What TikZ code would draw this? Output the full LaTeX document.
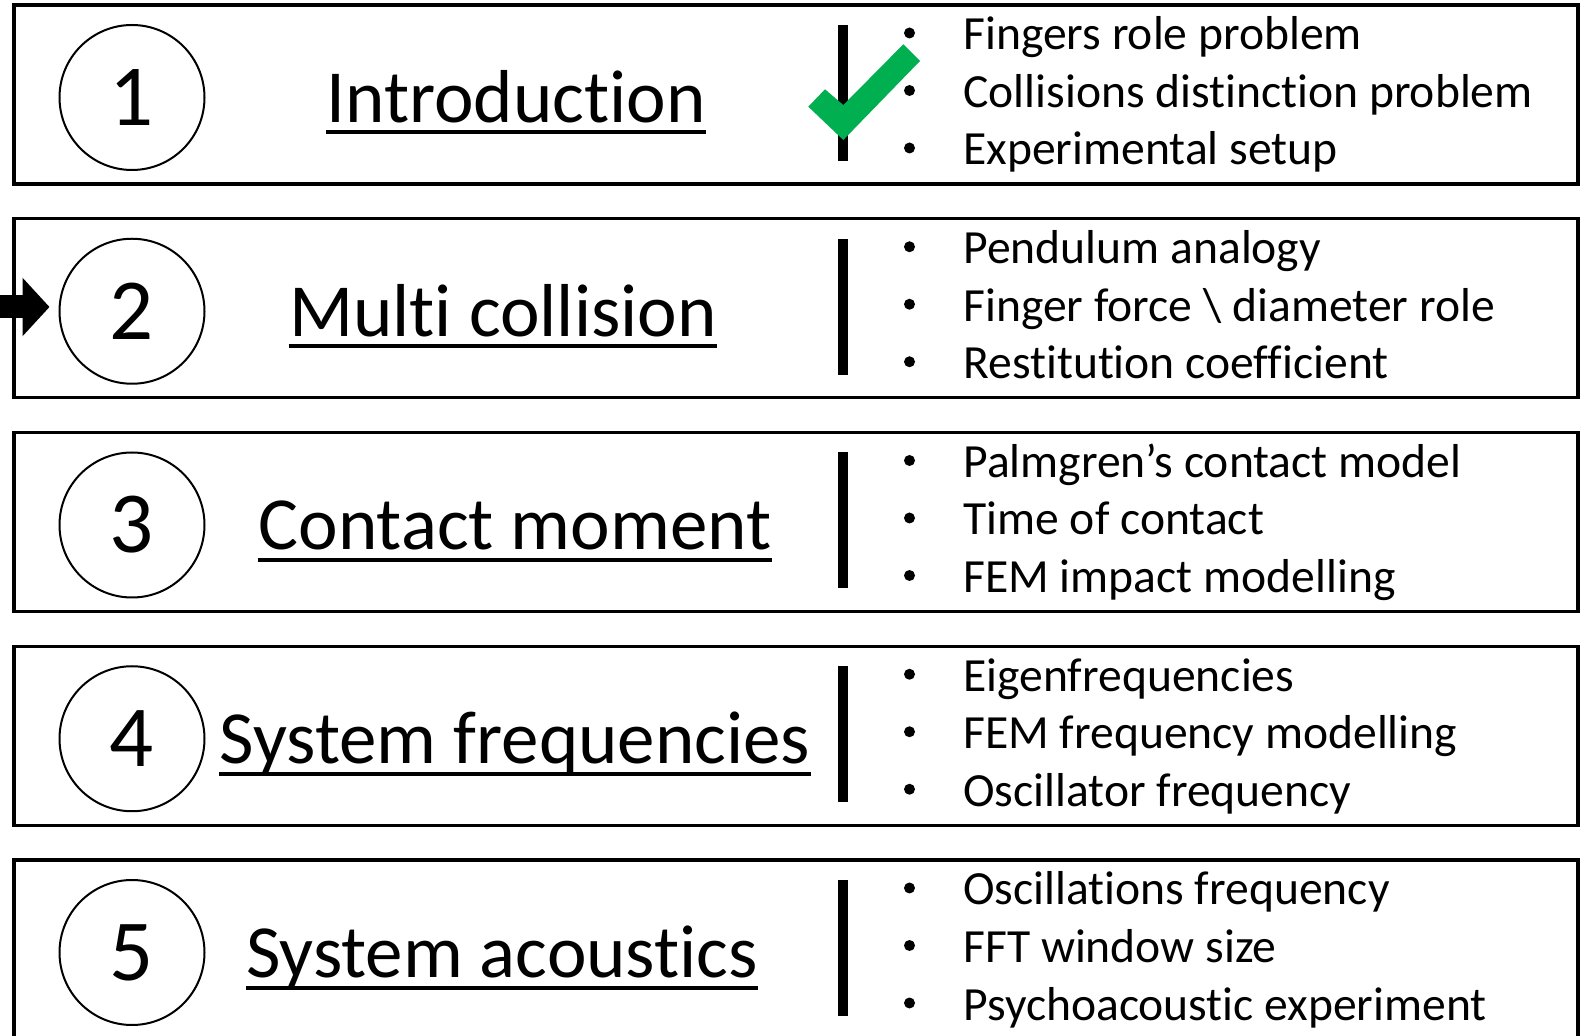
\documentclass[tikz,border=0pt]{standalone}
\usepackage{fontspec}
\setmainfont{Carlito}[Ligatures=NoCommon, RawFeature=-liga]
\usetikzlibrary{arrows.meta}

\definecolor{donegreen}{RGB}{0,176,80}

\tikzset{
  topicbox/.style={draw, line width=1.7pt, minimum width=782pt, minimum height=89.5pt, inner sep=0pt},
  numcircle/.style={draw, circle, line width=1pt, minimum size=72.5pt, inner sep=0pt,
    font=\fontsize{43.5}{50}\selectfont},
  topictitle/.style={anchor=base, inner sep=0pt, font=\fontsize{37.5}{44}\selectfont},
  titleline/.style={line width=2pt},
  sepbar/.style={fill, inner sep=0pt, minimum width=5pt, minimum height=68pt},
  itemdot/.style={circle, fill, inner sep=0pt, minimum size=5.5pt},
  itemtext/.style={anchor=base west, inner sep=0pt, font=\fontsize{23.8}{28}\selectfont},
  bigarrow/.style={line width=11.5pt, -{Triangle[length=13.5pt, width=28.5pt]}, shorten >=4.5pt}
}

\begin{document}
\begin{tikzpicture}[x=0.5pt, y=-0.5pt]
  \useasboundingbox (0,0) rectangle (1580,1036);

  % One row per topic: number, title (centre x), three points
  \foreach \i/\tx/\ttl/\pa/\pb/\pc in {
    1/516/{Introduction}/{Fingers role problem}/{Collisions distinction problem}/{Experimental setup},
    2/503/{Multi collision}/{Pendulum analogy}/{Finger force \textbackslash{} diameter role}/{Restitution coefficient},
    3/515/{Contact moment}/{Palmgren’s contact model}/{Time of contact}/{FEM impact modelling},
    4/515/{System frequencies}/{Eigenfrequencies}/{FEM frequency modelling}/{Oscillator frequency},
    5/502/{System acoustics}/{Oscillations frequency}/{FFT window size}/{Psychoacoustic experiment}%
  } {
    \pgfmathsetmacro{\boxtop}{5+213.75*(\i-1)}
    \node[topicbox] (box\i) at (796,\boxtop+89.5) {};
    \node[numcircle] (num\i) at (132,\boxtop+92.5) {\i};
    \node[topictitle] (title\i) at (\tx,\boxtop+117.5) {\ttl};
    \draw[titleline] ([yshift=-5pt]title\i.base west) -- ([yshift=-5pt]title\i.base east);
    \node[sepbar] (bar\i) at (843,\boxtop+88) {};

    % bullet points
    \foreach \k/\txt in {0/\pa, 1/\pb, 2/\pc} {
      \pgfmathsetmacro{\base}{\boxtop+45+57.5*\k}
      \node[itemdot] (dot\i\k) at (909.5,\base-17) {};
      \node[itemtext] (item\i\k) at (963,\base) {\txt};
    }
  }

  % Done mark over the first topic
  \fill[donegreen] (808.3,106.7) -- (825,89.3) -- (843.3,105) -- (903.3,44.3)
    -- (920,61) -- (843.3,140) -- cycle;

  % Current topic pointer
  \coordinate (arrowin) at (-10,307);
  \draw[bigarrow] (arrowin) -- (arrowin -| num2.west);
\end{tikzpicture}
\end{document}
